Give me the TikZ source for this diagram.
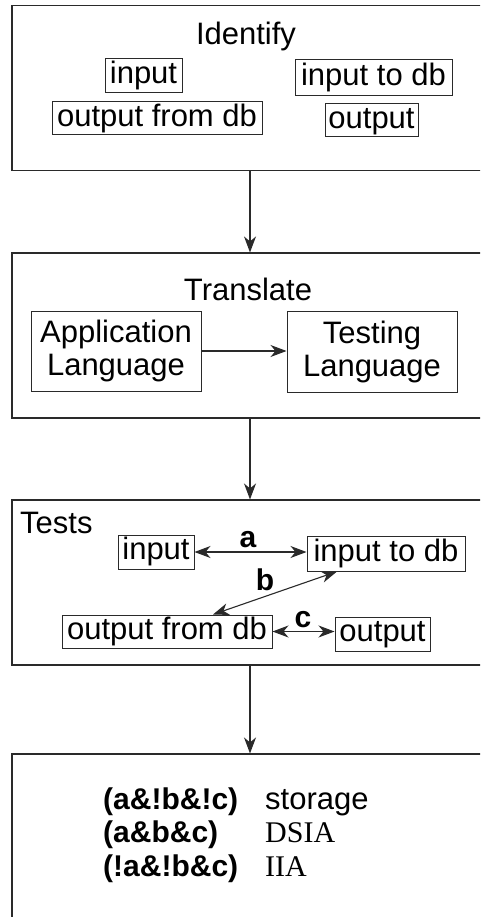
\documentclass[tikz,border=0pt]{standalone}
\usepackage{fontspec}
\setmainfont{Liberation Sans}
\newfontfamily\serifx{Liberation Serif}
\usetikzlibrary{arrows.meta,calc}
\definecolor{linec}{HTML}{2A2A2A}
\newcommand{\fsz}{\fontsize{31}{33}\selectfont}
\newcommand{\fszb}{\fontsize{30}{33}\selectfont\bfseries}
\begin{document}
\begin{tikzpicture}[x=1pt,y=-1pt,
  panel/.style={draw=linec, line width=1.1pt, minimum width=476pt, minimum height=165pt, inner sep=0pt},
  box/.style={draw=linec, line width=1pt, inner sep=0pt, font=\fsz, text height=22pt, text depth=6.5pt},
  bigbox/.style={draw=linec, line width=1pt, inner sep=0pt, font=\fsz, align=center},
  txt/.style={inner sep=0pt, font=\fsz},
  lbl/.style={inner sep=0pt, font=\fszb},
  tipx/.tip={Stealth[length=16pt,width=12pt,inset=5pt]},
  arr/.style={-tipx, draw=linec, line width=1.1pt},
  dbl/.style={tipx-tipx, draw=linec, line width=1.1pt}]
\useasboundingbox (0,0) rectangle (480,917);
\clip (0,0) rectangle (480,917);
\fill[white] (0,0) rectangle (480,917);

% Panel 1: Identify
\node[panel] (p1) at (250,88) {};
\node[txt, anchor=base] (t1) at (246,45) {Identify};
\node[box, minimum width=77pt, minimum height=34pt] (in1) at (143.5,76) {input};
\node[box, minimum width=157pt, minimum height=36pt] (it1) at (373.5,77.5) {input to db};
\node[box, minimum width=210pt, minimum height=33pt] (ofd1) at (157,118.5) {output from db};
\node[box, minimum width=93pt, minimum height=33pt] (out1) at (371.5,120.5) {output};

% Panel 2: Translate
\node[panel] (p2) at (250,335.5) {};
\node[txt, anchor=base] (t2) at (248,300) {Translate};
\node[bigbox, minimum width=170pt, minimum height=80pt] (app) at (116,351) {Application\\Language};
\node[bigbox, minimum width=170pt, minimum height=81pt] (tst) at (372,351.5) {Testing\\Language};
\draw[arr] (app.east) -- (app.east -| tst.west);

% Panel 3: Tests
\node[panel] (p3) at (250,582.5) {};
\node[txt, anchor=base west] (t3) at (20,533) {Tests};
\node[box, minimum width=76pt, minimum height=34pt] (in2) at (156,552) {input};
\node[box, minimum width=158pt, minimum height=35pt] (it2) at (386,553.5) {input to db};
\node[box, minimum width=210pt, minimum height=33pt] (ofd2) at (167,631.5) {output from db};
\node[box, minimum width=95pt, minimum height=34pt] (out2) at (382.5,634) {output};
\draw[dbl] (in2.east) -- (in2.east -| it2.west);
\draw[dbl] ([xshift=-49pt]it2.south) -- ([xshift=46pt]ofd2.north);
\draw[dbl] (ofd2.east) -- (ofd2.east -| out2.west);
\node[lbl] (la) at (248,540) {a};
\node[lbl] (lb) at (265,580) {b};
\node[lbl] (lc) at (303,620) {c};

% Panel 4
\node[panel] (p4) at (250,836.5) {};
\node[lbl, anchor=base west] (r1) at (103,809) {(a\&!b\&!c)};
\node[lbl, anchor=base west] (r2) at (103,842.5) {(a\&b\&c)};
\node[lbl, anchor=base west] (r3) at (103,876) {(!a\&!b\&c)};
\node[txt, anchor=base west] (s1) at (265,809) {storage};
\node[txt, anchor=base west, font=\fontsize{30}{33}\selectfont\serifx] (s2) at (265,842.5) {DSIA};
\node[txt, anchor=base west, font=\fontsize{30}{33}\selectfont\serifx] (s3) at (265,876) {IIA};

% Connectors between panels
\draw[arr] (p1.south) -- (p2.north);
\draw[arr] (p2.south) -- (p3.north);
\draw[arr] (p3.south) -- (p4.north);
\end{tikzpicture}
\end{document}
